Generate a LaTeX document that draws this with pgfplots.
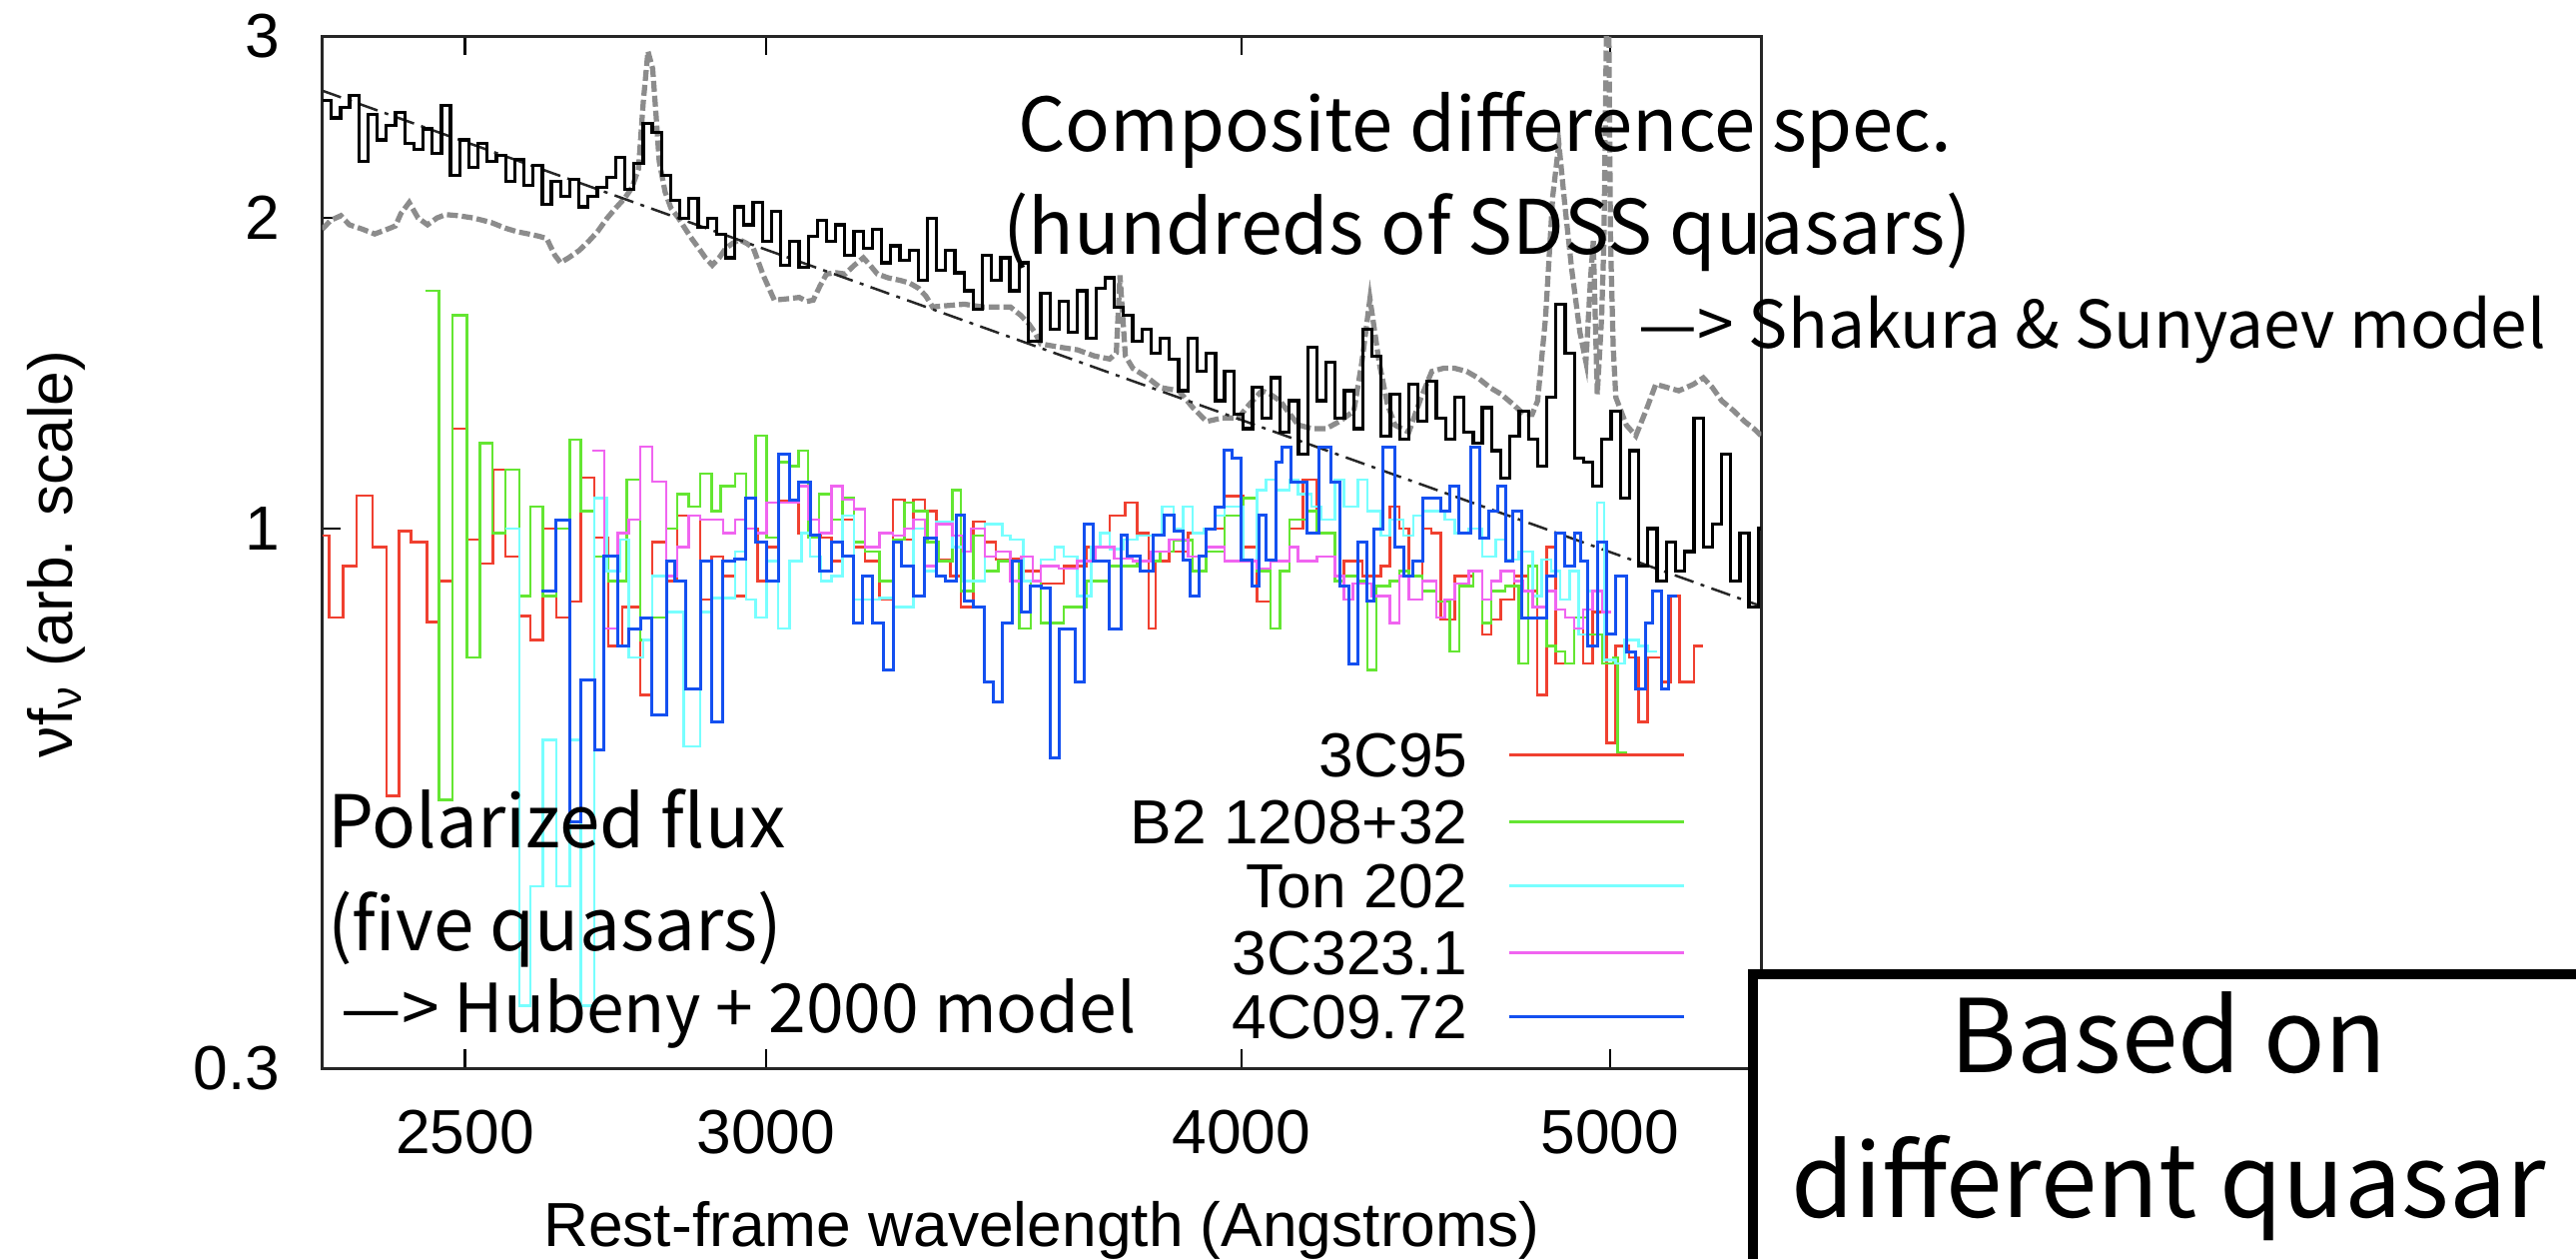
\documentclass[border=0pt]{standalone}
\usepackage{pgfplots}
\pgfplotsset{compat=1.18}
\usepackage{pgfplotstable}
\usepackage{fontspec}
\setmainfont{Liberation Sans}
\newfontfamily\jp{Noto Sans CJK JP}
\definecolor{cred}{RGB}{240,64,48}
\definecolor{cgreen}{RGB}{100,230,50}
\definecolor{ccyan}{RGB}{120,255,255}
\definecolor{cmag}{RGB}{240,100,240}
\definecolor{cblue}{RGB}{20,80,240}
\definecolor{cgray}{RGB}{140,140,140}

\pgfplotstableread{
lam val
2293.0 2.60
2305.8 2.50
2318.6 2.56
2331.5 2.63
2344.5 2.27
2357.5 2.52
2370.6 2.38
2383.8 2.46
2397.1 2.53
2410.5 2.36
2423.9 2.33
2437.4 2.44
2451.0 2.31
2464.6 2.57
2478.3 2.20
2492.2 2.38
2506.0 2.24
2520.0 2.36
2534.0 2.27
2548.1 2.30
2562.3 2.17
2576.6 2.28
2590.9 2.15
2605.4 2.25
2619.9 2.06
2634.4 2.17
2649.1 2.10
2663.8 2.18
2678.7 2.05
2693.6 2.10
2708.6 2.14
2723.7 2.19
2738.8 2.29
2754.1 2.13
2769.4 2.26
2784.9 2.47
2800.4 2.42
2816.0 2.20
2831.6 2.08
2847.4 2.00
2863.2 2.09
2879.2 1.96
2895.2 2.00
2911.3 1.93
2927.5 1.83
2943.9 2.05
2960.2 1.97
2976.7 2.07
2993.3 1.90
3009.9 2.03
3026.7 1.80
3043.5 1.90
3060.5 1.79
3077.5 1.92
3094.6 1.99
3111.9 1.90
3129.2 1.97
3146.6 1.84
3164.1 1.94
3181.7 1.87
3199.6 1.95
3217.4 1.81
3235.3 1.88
3253.3 1.82
3271.4 1.86
3289.6 1.74
3307.9 2.00
3326.3 1.78
3344.8 1.86
3363.5 1.77
3382.2 1.70
3401.0 1.63
3419.9 1.84
3439.0 1.74
3458.1 1.83
3477.5 1.70
3496.9 1.81
3516.3 1.52
3543.0 1.69
3562.8 1.56
3582.7 1.66
3602.7 1.55
3622.8 1.70
3643.0 1.53
3663.4 1.71
3683.8 1.75
3704.4 1.64
3725.1 1.61
3745.9 1.52
3766.8 1.56
3787.8 1.48
3809.0 1.53
3830.2 1.46
3851.6 1.36
3873.1 1.53
3894.7 1.42
3916.5 1.48
3938.3 1.33
3960.4 1.42
3982.5 1.29
4004.7 1.25
4027.1 1.37
4049.6 1.28
4072.2 1.40
4094.9 1.24
4117.8 1.33
4140.8 1.18
4163.9 1.50
4187.1 1.33
4210.5 1.45
4234.0 1.28
4257.7 1.36
4281.4 1.25
4305.3 1.56
4329.4 1.47
4353.5 1.23
4377.9 1.35
4402.3 1.22
4426.8 1.38
4451.6 1.27
4476.4 1.39
4501.4 1.28
4526.5 1.22
4551.8 1.34
4577.2 1.24
4602.8 1.21
4628.5 1.31
4654.3 1.19
4680.3 1.12
4706.4 1.23
4732.7 1.30
4759.1 1.22
4785.7 1.15
4812.5 1.34
4839.3 1.65
4866.4 1.48
4893.5 1.17
4920.8 1.16
4948.3 1.10
4976.0 1.22
5003.7 1.30
5031.7 1.07
5059.8 1.19
5088.0 0.92
5116.4 1.00
5145.0 0.89
5173.7 0.97
5202.6 0.91
5231.7 0.95
5260.9 1.28
5290.3 0.96
5319.8 1.01
5349.5 1.18
5379.3 0.89
5409.4 0.99
5439.6 0.84
5469.9 1.00
5480.0 1.00
}\blacktab

\pgfplotstableread{
lam val
2293 1.95
2305 1.99
2319 2.01
2331 1.97
2350 1.95
2367 1.93
2385 1.95
2397 1.965
2405 2.02
2417 2.07
2430 2.00
2444 1.97
2458 2.00
2471 2.015
2490 2.01
2513 2.00
2540 1.98
2562 1.955
2580 1.94
2598 1.93
2615 1.92
2627 1.91
2640 1.84
2649 1.81
2662 1.83
2679 1.86
2695 1.90
2709 1.94
2725 2.00
2739 2.045
2754 2.09
2766 2.14
2777 2.23
2785 2.59
2793 2.90
2801 2.79
2807 2.50
2812 2.27
2822 2.12
2832 2.045
2845 2.00
2856 1.955
2868 1.91
2880 1.87
2892 1.83
2904 1.80
2916 1.83
2928 1.87
2940 1.89
2952 1.905
2965 1.89
2977 1.87
2995 1.76
3015 1.665
3040 1.67
3061 1.675
3075 1.66
3087 1.665
3100 1.72
3112 1.765
3130 1.77
3147 1.765
3165 1.80
3182 1.83
3195 1.80
3209 1.765
3230 1.75
3254 1.74
3272 1.73
3290 1.71
3305 1.68
3318 1.64
3350 1.645
3383 1.65
3400 1.645
3420 1.64
3450 1.64
3478 1.64
3500 1.61
3517 1.58
3530 1.55
3543 1.51
3580 1.50
3623 1.49
3660 1.47
3694 1.46
3709 1.48
3717 1.76
3729 1.47
3746 1.43
3780 1.40
3809 1.37
3852 1.36
3885 1.31
3917 1.27
3955 1.28
3993 1.28
4020 1.32
4050 1.36
4070 1.35
4095 1.33
4120 1.29
4141 1.26
4175 1.25
4211 1.25
4245 1.27
4282 1.30
4303 1.45
4324 1.67
4348 1.45
4370 1.32
4390 1.26
4427 1.24
4460 1.34
4489 1.42
4520 1.43
4552 1.43
4585 1.42
4616 1.40
4650 1.37
4681 1.35
4715 1.32
4747 1.29
4770 1.29
4786 1.33
4809 1.60
4830 2.10
4848 2.36
4866 2.05
4886 1.78
4910 1.55
4928 1.45
4942 1.75
4950 1.90
4956 1.60
4962 1.35
4975 1.60
4982 1.90
4994 4.00
5002 1.90
5010 1.50
5018 1.34
5050 1.26
5079 1.23
5110 1.30
5141 1.38
5213 1.36
5260 1.38
5291 1.40
5320 1.37
5350 1.33
5390 1.30
5425 1.27
5455 1.25
5480 1.23
}\graytab

\pgfplotstableread{
lam val
2293 0.985
2303 0.82
2322 0.92
2341 1.077
2364 0.96
2384 0.551
2402 0.995
2420 0.97
2443 0.812
2461 0.89
2481 1.25
2503 0.976
2523 0.925
2543 1.14
2562 0.94
2584 0.823
2601 0.78
2621 1.0
2642 0.82
2664 0.85
2682 1.12
2704 0.98
2727 0.77
2750 0.84
2780 0.69
2800 0.97
2824 0.89
2843 1.03
2883 0.854
2903 0.94
2923 0.90
2944 0.86
2964 1.0
2985 0.89
3001 0.96
3022 1.063
3043 1.067
3060 0.99
3081 0.985
3102 0.98
3121 0.93
3142 1.02
3164 0.96
3185 0.93
3213 0.854
3240 1.067
3262 0.976
3280 1.067
3303 1.04
3326 0.933
3354 0.90
3376 0.84
3401 1.016
3425 0.97
3448 0.933
3478 0.935
3506 0.91
3543 0.885
3592 0.92
3643 0.96
3694 1.03
3729 1.06
3756 0.99
3782 0.80
3798 0.93
3829 0.95
3873 0.99
3916 1.0
3960 1.075
4005 0.96
4038 0.85
4072 0.93
4118 1.0
4152 1.116
4187 0.99
4234 0.89
4257 0.93
4305 0.90
4353 0.92
4377 1.05
4401 1.0
4427 0.90
4464 1.0
4488 0.99
4513 0.816
4552 0.90
4603 0.91
4628 0.79
4653 0.816
4680 0.854
4719 0.90
4759 0.87
4785 0.69
4812 0.96
4839 0.74
4893 0.80
4920 0.74
4948 0.83
4990 0.62
5017 0.77
5059 0.75
5088 0.65
5116 0.75
5159 0.71
5187 0.86
5216 0.71
5261 0.77
5290 0.77
}\redtab

\pgfplotstableread{
lam val
2441 1.70
2461 0.546
2481 1.61
2503 0.75
2523 1.21
2542 0.99
2562 1.14
2584 0.86
2601 1.05
2621 0.86
2642 1.0
2664 1.22
2682 1.04
2704 0.94
2727 0.89
2757 1.116
2780 0.78
2800 0.82
2824 1.0
2843 1.08
2863 1.05
2883 1.13
2903 1.04
2919 1.1
2944 1.13
2964 1.0
2981 1.23
3001 0.98
3022 1.16
3043 1.15
3060 1.19
3077 0.98
3098 1.08
3121 1.02
3142 1.07
3164 0.97
3185 0.95
3213 0.89
3240 0.976
3262 1.06
3280 1.04
3308 0.97
3331 0.93
3358 1.09
3376 0.87
3401 0.985
3425 0.91
3453 0.93
3497 0.80
3521 0.89
3543 0.81
3592 0.84
3643 0.89
3694 0.92
3756 0.93
3808 0.95
3840 0.975
3884 0.91
3916 0.95
3960 1.03
4005 1.07
4038 0.91
4072 0.80
4095 0.91
4118 1.02
4163 1.04
4187 0.99
4234 0.89
4257 0.90
4292 0.89
4317 0.73
4341 0.88
4377 0.89
4401 0.91
4427 0.90
4464 0.87
4501 0.85
4538 0.76
4564 0.88
4603 0.91
4628 0.81
4653 0.87
4693 0.88
4732 0.74
4759 0.92
4785 0.84
4812 0.77
4839 0.76
4866 0.74
4893 0.82
4933 0.79
4976 0.74
5010 0.75
5024 0.607
5052 0.607
}\greentab

\pgfplotstableread{
lam val
2562 1.0
2584 0.345
2601 0.45
2621 0.624
2642 0.45
2664 0.624
2682 0.345
2704 1.07
2724 0.91
2746 0.976
2761 0.75
2785 0.78
2800 0.90
2824 0.83
2854 0.615
2883 0.83
2903 0.857
2944 0.95
2964 0.854
2981 0.82
3001 0.93
3022 0.80
3043 0.93
3065 0.99
3081 0.94
3102 0.89
3121 0.90
3142 1.03
3164 0.854
3213 0.857
3240 0.84
3280 1.0
3303 0.91
3326 1.016
3358 0.96
3381 0.89
3425 1.01
3462 0.985
3478 0.976
3506 0.89
3543 0.933
3573 0.96
3592 0.94
3622 0.86
3653 0.96
3673 0.99
3694 0.955
3724 0.976
3756 0.985
3814 1.05
3840 1.0
3862 1.05
3884 0.99
3911 1.0
3937 1.03
3960 1.05
4005 0.93
4038 1.09
4060 1.116
4084 1.09
4118 1.116
4140 1.08
4174 1.05
4199 1.02
4234 1.116
4257 1.05
4292 1.116
4317 1.04
4353 0.985
4377 1.02
4413 0.985
4439 1.03
4464 1.04
4525 1.02
4552 0.99
4590 1.0
4628 0.94
4666 0.976
4693 0.933
4732 0.95
4772 0.86
4798 0.933
4826 0.91
4852 0.854
4880 0.91
4906 0.79
4933 0.87
4962 1.06
4983 0.746
5017 0.74
5045 0.78
5088 0.77
5116 0.76
5145 0.76
}\cyantab

\pgfplotstableread{
lam val
2700 1.19
2720 0.80
2742 0.99
2761 1.02
2780 1.20
2800 1.11
2824 0.90
2843 0.96
2863 1.03
2883 1.02
2923 0.99
2944 1.02
2964 1.0
2981 0.99
3001 1.06
3043 1.06
3060 1.10
3077 1.02
3098 0.99
3121 1.10
3142 1.067
3164 1.045
3185 0.96
3213 0.99
3240 0.985
3262 1.0
3280 1.02
3303 0.92
3326 1.01
3358 0.985
3381 0.95
3396 1.0
3425 0.94
3448 0.95
3478 0.89
3502 0.94
3526 0.89
3543 0.92
3582 0.915
3622 0.93
3663 0.96
3704 0.935
3746 0.93
3788 0.95
3829 0.976
3873 0.94
3916 0.96
3960 0.93
4038 0.915
4072 0.93
4118 0.96
4140 0.93
4187 0.94
4234 0.90
4257 0.854
4280 0.885
4329 0.86
4377 0.81
4401 0.90
4427 0.854
4464 0.89
4501 0.82
4525 0.854
4552 0.885
4590 0.91
4628 0.854
4653 0.89
4680 0.91
4719 0.89
4745 0.87
4772 0.84
4812 0.87
4839 0.835
4866 0.82
4893 0.80
4920 0.835
4948 0.87
4976 0.83
5003 0.83
}\magtab

\pgfplotstableread{
lam val
2619 0.87
2642 1.02
2664 0.52
2682 0.714
2704 0.61
2720 0.94
2742 0.77
2761 0.80
2780 0.82
2800 0.66
2824 0.93
2839 0.89
2858 0.70
2883 0.93
2903 0.65
2923 0.93
2944 0.935
2964 1.07
2981 0.97
3001 0.89
3022 1.18
3043 1.065
3060 1.11
3081 0.985
3098 0.91
3121 0.97
3142 0.94
3164 0.81
3181 0.90
3200 0.81
3222 0.73
3240 0.97
3257 0.92
3280 0.86
3303 0.98
3326 0.90
3344 0.89
3367 1.03
3382 0.85
3401 0.84
3425 0.71
3443 0.68
3462 0.81
3482 0.93
3502 0.83
3521 0.88
3543 0.875
3563 0.60
3582 0.80
3617 0.71
3637 1.01
3658 0.93
3694 0.80
3719 0.985
3734 0.94
3762 0.91
3793 0.985
3819 1.03
3840 0.995
3862 0.933
3878 0.86
3900 0.94
3916 1.0
3937 1.05
3960 1.19
3977 1.17
3999 0.933
4027 0.88
4043 1.03
4060 0.933
4084 1.16
4101 1.20
4123 1.11
4163 0.99
4193 1.20
4222 1.11
4245 0.88
4269 0.74
4292 0.97
4317 0.85
4335 1.0
4359 1.20
4389 0.96
4413 0.90
4439 0.93
4464 1.07
4513 1.04
4538 1.10
4564 0.99
4596 1.20
4621 0.98
4647 1.04
4672 1.10
4693 0.93
4713 1.04
4739 0.82
4812 0.90
4839 0.99
4866 0.92
4893 0.99
4913 0.93
4933 0.77
4962 0.97
4990 0.79
5017 0.90
5052 0.76
5079 0.70
5109 0.81
5131 0.87
5159 0.70
5180 0.86
5208 0.86
}\bluetab

\begin{document}
\begin{tikzpicture}
\begin{scope}[x=0.33pt,y=0.33pt]
\path[use as bounding box] (0,0) rectangle (1568,766);
\end{scope}
\begin{axis}[
  at={(64.68pt,38.28pt)}, anchor=south west,
  width=289.08pt, height=207.24pt, scale only axis,
  xmode=log, ymode=log,
  xmin=2293, xmax=5480, ymin=0.3, ymax=3,
  xtick={2500,3000,4000,5000}, xticklabels={2500,3000,4000,5000},
  ytick={0.3,1,2,3}, yticklabels={0.3,1,2,3},
  minor tick num=0,
  xtick pos=both, ytick pos=left,
  tick align=inside,
  major tick length=3.8pt,
  tick style={black, line width=0.5pt},
  axis line style={black!85, line width=0.6pt},
  tick label style={font=\fontsize{12.5}{15}\selectfont},
  xticklabel style={anchor=base, yshift=-17.2pt, inner sep=0pt},
  yticklabel style={anchor=east, xshift=-8.25pt, inner sep=0pt},
]
\addplot[forget plot, cgray, line width=1.05pt, dash pattern=on 2.2pt off 0.8pt] table[x=lam,y=val]{\graytab};
\addplot[forget plot, black!85, line width=0.5pt, dash pattern=on 4pt off 1.5pt on 0.8pt off 1.5pt] coordinates {(2293,2.657) (5480,0.841)};
\addplot[forget plot, const plot, black, line width=0.65pt] table[x=lam,y=val]{\blacktab};
\addplot[const plot, cred, line width=0.5pt] table[x=lam,y=val]{\redtab};
\addplot[const plot, cgreen, line width=0.5pt] table[x=lam,y=val]{\greentab};
\addplot[const plot, ccyan, line width=0.5pt] table[x=lam,y=val]{\cyantab};
\addplot[const plot, cmag, line width=0.5pt] table[x=lam,y=val]{\magtab};
\addplot[const plot, cblue, line width=0.6pt] table[x=lam,y=val]{\bluetab};
\end{axis}
\begin{scope}[x=0.33pt,y=0.33pt]
% axis labels
\node[anchor=base, inner sep=0pt, font=\fontsize{12.5}{15}\selectfont] at (634,7.4) {Rest-frame wavelength (Angstroms)};
\node[anchor=base, rotate=90, inner sep=0pt, font=\fontsize{12.5}{15}\selectfont] at (44,429) {νf\textsubscript{ν} (arb. scale)};
% legend
\begin{scope}[font=\fontsize{12.5}{15}\selectfont]
\node[anchor=base east, inner sep=0pt] at (894,293.1) {3C95};
\node[anchor=base east, inner sep=0pt] at (894,252.4) {B2 1208+32};
\node[anchor=base east, inner sep=0pt] at (894,213.5) {Ton 202};
\node[anchor=base east, inner sep=0pt] at (894,172.8) {3C323.1};
\node[anchor=base east, inner sep=0pt] at (894,133.9) {4C09.72};
\draw[cred, line width=0.5pt] (918.5,306.7) -- (1025,306.7);
\draw[cgreen, line width=0.5pt] (918.5,266) -- (1025,266);
\draw[ccyan, line width=0.5pt] (918.5,227.1) -- (1025,227.1);
\draw[cmag, line width=0.5pt] (918.5,186.4) -- (1025,186.4);
\draw[cblue, line width=0.6pt] (918.5,147.5) -- (1025,147.5);
\end{scope}
% annotations
\begin{scope}[every node/.style={inner sep=0pt}]
\node[anchor=base west, font=\jp\fontsize{14.9}{17}\selectfont] at (619,674) {Composite difference spec.};
\node[anchor=base west, font=\jp\fontsize{15.1}{17}\selectfont] at (610,611.3) {(hundreds of SDSS quasars)};
\node[anchor=base west, font=\jp\fontsize{13.2}{15}\selectfont] at (997,554.4) {—> Shakura \& Sunyaev model};
\node[anchor=base west, font=\jp\fontsize{14.6}{17}\selectfont] at (199,250.3) {Polarized flux};
\node[anchor=base west, font=\jp\fontsize{14.6}{17}\selectfont] at (199,187.5) {(five quasars)};
\node[anchor=base west, font=\jp\fontsize{13.6}{15}\selectfont] at (207,137.5) {—> Hubeny + 2000 model};
\end{scope}
% box
\begin{scope}
\clip (0,0) rectangle (1568,766);
\filldraw[fill=white, draw=black, line width=2pt] (1067,-30) rectangle (1620,173.5);
\node[anchor=base, inner sep=0pt, font=\jp\fontsize{20.4}{24}\selectfont] at (1320,113.4) {Based on};
\node[anchor=base, inner sep=0pt, font=\jp\fontsize{20.4}{24}\selectfont] at (1320,25.2) {different quasar};
\end{scope}
\end{scope}
\end{tikzpicture}
\end{document}
